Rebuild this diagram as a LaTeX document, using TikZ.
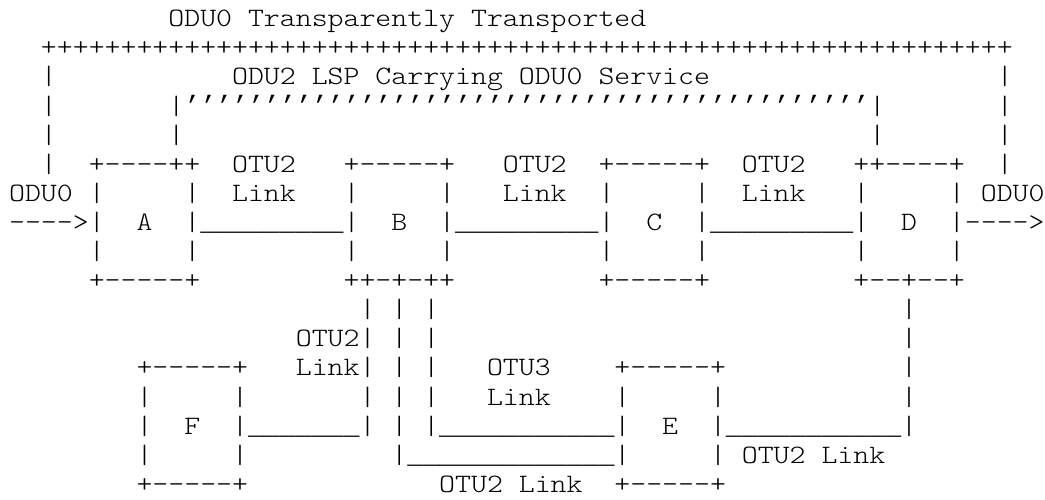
\documentclass[tikz,border=0pt]{standalone}
\usepackage{fontspec}
\setmonofont{Liberation Mono}
\newfontfamily\lmm{lmmonolt10-regular.otf}[FakeStretch=1.1429]
\newcommand\T[3]{\node[txt] (r#1c#2) at ({9.1+#2*15.93},{-26.7-(#1-1)*29.1}) {#3};}
\newcommand\U[1]{{\ttfamily#1}}
\tikzset{txt/.style={inner sep=0pt, outer sep=0pt, anchor=base west, text=black,
  font=\lmm\fontsize{26.55pt}{29.1pt}\selectfont}}
\begin{document}
\begin{tikzpicture}[x=1pt,y=1pt]
\useasboundingbox[fill=white] (0,0) rectangle (1045,-499);
% row 1
\T{1}{10}{ODU0 Transparently Transported}
% row 2
\T{2}{2}{+++++++++++++++++++++++++++++++++++++++++++++++++++++++++++++}
% row 3
\T{3}{2}{|}
\T{3}{14}{ODU2 LSP Carrying ODU0 Service}
\T{3}{62}{|}
% row 4
\T{4}{2}{|}
\T{4}{10}{|\U{’’’’’’’’’’’’’’’’’’’’’’’’’’’’’’’’’’’’’’’’’’’}|}
\T{4}{62}{|}
% row 5
\T{5}{2}{|}
\T{5}{10}{|}
\T{5}{54}{|}
\T{5}{62}{|}
% row 6
\T{6}{2}{|}
\T{6}{5}{+----++}
\T{6}{14}{OTU2}
\T{6}{21}{+-----+}
\T{6}{31}{OTU2}
\T{6}{37}{+-----+}
\T{6}{46}{OTU2}
\T{6}{53}{++----+}
\T{6}{62}{|}
% row 7
\T{7}{0}{ODU0}
\T{7}{5}{|}
\T{7}{11}{|}
\T{7}{14}{Link}
\T{7}{21}{|}
\T{7}{27}{|}
\T{7}{31}{Link}
\T{7}{37}{|}
\T{7}{43}{|}
\T{7}{46}{Link}
\T{7}{53}{|}
\T{7}{59}{|}
\T{7}{61}{ODU0}
% row 8
\T{8}{0}{---->|}
\T{8}{8}{A}
\T{8}{11}{|\U{\_\_\_\_\_\_\_\_\_}|}
\T{8}{24}{B}
\T{8}{27}{|\U{\_\_\_\_\_\_\_\_\_}|}
\T{8}{40}{C}
\T{8}{43}{|\U{\_\_\_\_\_\_\_\_\_}|}
\T{8}{56}{D}
\T{8}{59}{|---->}
% row 9
\T{9}{5}{|}
\T{9}{11}{|}
\T{9}{21}{|}
\T{9}{27}{|}
\T{9}{37}{|}
\T{9}{43}{|}
\T{9}{53}{|}
\T{9}{59}{|}
% row 10
\T{10}{5}{+-----+}
\T{10}{21}{++-+-++}
\T{10}{37}{+-----+}
\T{10}{53}{+--+--+}
% row 11
\T{11}{22}{|}
\T{11}{24}{|}
\T{11}{26}{|}
\T{11}{56}{|}
% row 12
\T{12}{18}{OTU2|}
\T{12}{24}{|}
\T{12}{26}{|}
\T{12}{56}{|}
% row 13
\T{13}{8}{+-----+}
\T{13}{18}{Link|}
\T{13}{24}{|}
\T{13}{26}{|}
\T{13}{30}{OTU3}
\T{13}{38}{+-----+}
\T{13}{56}{|}
% row 14
\T{14}{8}{|}
\T{14}{14}{|}
\T{14}{22}{|}
\T{14}{24}{|}
\T{14}{26}{|}
\T{14}{30}{Link}
\T{14}{38}{|}
\T{14}{44}{|}
\T{14}{56}{|}
% row 15
\T{15}{8}{|}
\T{15}{11}{F}
\T{15}{14}{|\U{\_\_\_\_\_\_\_}|}
\T{15}{24}{|}
\T{15}{26}{|\U{\_\_\_\_\_\_\_\_\_\_\_}|}
\T{15}{41}{E}
\T{15}{44}{|\U{\_\_\_\_\_\_\_\_\_\_\_}|}
% row 16
\T{16}{8}{|}
\T{16}{14}{|}
\T{16}{24}{|\U{\_\_\_\_\_\_\_\_\_\_\_\_\_}|}
\T{16}{44}{|}
\T{16}{46}{OTU2 Link}
% row 17
\T{17}{8}{+-----+}
\T{17}{27}{OTU2 Link}
\T{17}{38}{+-----+}
\end{tikzpicture}
\end{document}
